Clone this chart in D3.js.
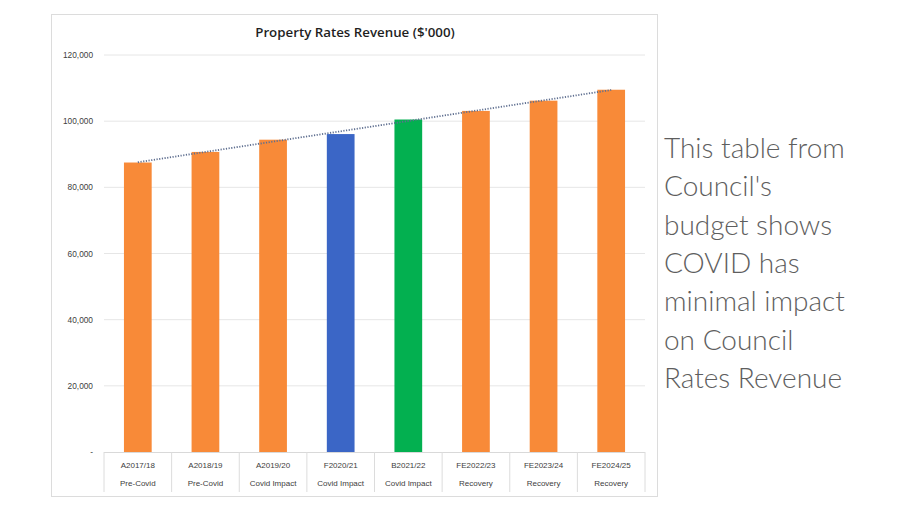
<!DOCTYPE html>
<html lang="en">
  <head>
    <meta charset="UTF-8" />
    <title>Property Rates Revenue</title>
    <script src="https://d3js.org/d3.v7.min.js"></script>
    <style>
      html, body {
        margin: 0;
        padding: 0;
        background: #ffffff;
      }
      svg {
        display: block;
      }
    </style>
  </head>
  <body>
    <svg id="chart" width="900" height="513"></svg>
    <script>
      // Data ($'000)
      const years = ["A2017/18", "A2018/19", "A2019/20", "F2020/21", "B2021/22", "FE2022/23", "FE2023/24", "FE2024/25"];
      const phases = ["Pre-Covid", "Pre-Covid", "Covid Impact", "Covid Impact", "Covid Impact", "Recovery", "Recovery", "Recovery"];
      const revenue = [87500, 90700, 94400, 96100, 100500, 103100, 106200, 109500];
      const yTicks = [0, 20000, 40000, 60000, 80000, 100000, 120000];
      const noteLines = ["This table from", "Council's", "budget shows", "COVID has", "minimal impact", "on Council", "Rates Revenue"];

      const colorOf = { "A2017/18": "#f88a38", "A2018/19": "#f88a38", "A2019/20": "#f88a38", "F2020/21": "#3b66c6", "B2021/22": "#03b050", "FE2022/23": "#f88a38", "FE2023/24": "#f88a38", "FE2024/25": "#f88a38" };

      const svg = d3.select("#chart");
      const chartFont = "'Liberation Sans', Arial, sans-serif";

      // outer chart frame
      svg.append("rect")
        .attr("x", 51.5).attr("y", 14.5)
        .attr("width", 606).attr("height", 482)
        .attr("fill", "#fff")
        .attr("stroke", "#dcdcdc");

      const plot = { left: 104, right: 645, top: 55, bottom: 452 };

      const x = d3.scaleBand()
        .domain(years)
        .range([plot.left, plot.right])
        .paddingInner(0.59)
        .paddingOuter(0.295);

      const y = d3.scaleLinear()
        .domain([0, 120000])
        .range([plot.bottom, plot.top]);

      // gridlines
      svg.append("g")
        .selectAll("line")
        .data(yTicks.filter((d) => d > 0))
        .join("line")
        .attr("x1", plot.left).attr("x2", plot.right)
        .attr("y1", (d) => y(d)).attr("y2", (d) => y(d))
        .attr("stroke", "#e6e6e6")
        .attr("stroke-width", 1);

      // y axis labels
      const yAxis = svg.append("g")
        .attr("transform", `translate(${plot.left - 2},0)`)
        .call(d3.axisLeft(y).tickValues(yTicks).tickSize(0).tickPadding(9)
          .tickFormat((d) => (d === 0 ? "-" : d3.format(",")(d))));
      yAxis.select(".domain").remove();
      yAxis.selectAll("text")
        .attr("font-family", chartFont)
        .attr("font-size", 8.3)
        .attr("fill", "#404040");

      // bars
      svg.append("g")
        .selectAll("rect")
        .data(years)
        .join("rect")
        .attr("x", (d) => x(d))
        .attr("y", (d, i) => y(revenue[i]))
        .attr("width", x.bandwidth())
        .attr("height", (d, i) => y(0) - y(revenue[i]))
        .attr("fill", (d) => colorOf[d]);

      // linear trendline (least squares on the bar values)
      const n = revenue.length;
      const idx = d3.range(n);
      const mx = d3.mean(idx);
      const my = d3.mean(revenue);
      const slope = d3.sum(idx, (i) => (i - mx) * (revenue[i] - my)) / d3.sum(idx, (i) => (i - mx) * (i - mx));
      const icpt = my - slope * mx;
      const centre = (i) => x(years[i]) + x.bandwidth() / 2;

      svg.append("line")
        .attr("x1", centre(0))
        .attr("y1", y(icpt))
        .attr("x2", centre(n - 1))
        .attr("y2", y(icpt + slope * (n - 1)))
        .attr("stroke", "#5f6f90")
        .attr("stroke-width", 1.8)
        .attr("stroke-dasharray", "1.2 1.5");

      // category table under the axis
      const step = x.step();
      const table = svg.append("g");
      table.append("line")
        .attr("x1", plot.left).attr("x2", plot.right)
        .attr("y1", plot.bottom + 0.5).attr("y2", plot.bottom + 0.5)
        .attr("stroke", "#d9d9d9");
      table.selectAll(".sep")
        .data(d3.range(years.length + 1))
        .join("line")
        .attr("class", "sep")
        .attr("x1", (i) => plot.left + i * step)
        .attr("x2", (i) => plot.left + i * step)
        .attr("y1", plot.bottom)
        .attr("y2", plot.bottom + 40)
        .attr("stroke", "#dcdcdc");

      table.selectAll(".yr")
        .data(years)
        .join("text")
        .attr("class", "yr")
        .attr("x", (d, i) => centre(i))
        .attr("y", plot.bottom + 16)
        .attr("text-anchor", "middle")
        .attr("font-family", chartFont)
        .attr("font-size", 8)
        .attr("fill", "#404040")
        .text((d) => d);

      table.selectAll(".ph")
        .data(phases)
        .join("text")
        .attr("class", "ph")
        .attr("x", (d, i) => centre(i))
        .attr("y", plot.bottom + 34)
        .attr("text-anchor", "middle")
        .attr("font-family", chartFont)
        .attr("font-size", 8)
        .attr("fill", "#404040")
        .text((d) => d);

      // title
      svg.append("text")
        .attr("x", 355)
        .attr("y", 37)
        .attr("text-anchor", "middle")
        .attr("font-family", "'Open Sans', sans-serif")
        .attr("font-weight", 600)
        .attr("font-size", 13.3)
        .attr("fill", "#1f1f1f")
        .text("Property Rates Revenue ($'000)");

      // side note
      svg.append("g")
        .selectAll("text")
        .data(noteLines)
        .join("text")
        .attr("x", 664)
        .attr("y", (d, i) => 158 + i * 38.3)
        .attr("font-family", "Lato, sans-serif")
        .attr("font-weight", 300)
        .attr("font-size", 28)
        .attr("fill", "#5e5e5e")
        .text((d) => d);
    </script>
  </body>
</html>
